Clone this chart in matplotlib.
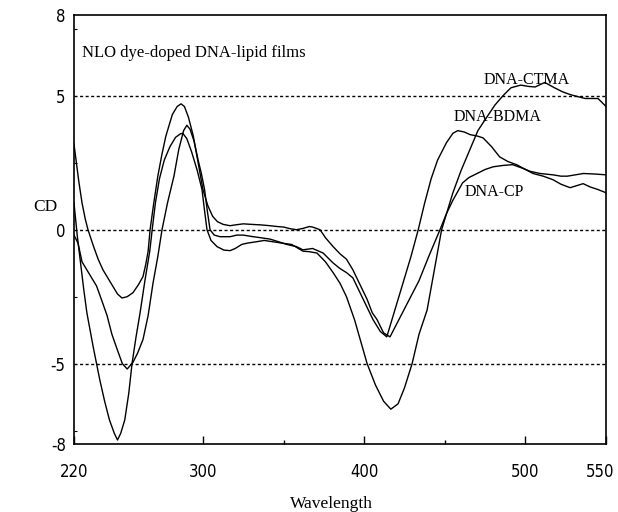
import matplotlib
matplotlib.use('Agg')

import matplotlib.pyplot as plt
import matplotlib.transforms as mtransforms
import numpy as np

# CD spectra (wavelength nm, CD)
ctma_wl = [220, 222, 224, 226, 228, 232, 236, 239, 242, 245, 247, 249, 251.5, 254, 256,
           258.5, 261, 264, 267, 268.5, 270.5, 273, 276, 279.5, 283, 286, 287.5, 290, 293,
           296.5, 299.4, 301, 302.5, 305, 308.7, 313, 316.8, 320, 324, 327.5, 333, 338,
           343.5, 349, 355, 362, 366, 370.7, 376, 380.7, 385, 389, 394, 398, 401.8, 407,
           412, 416.5, 421, 425, 429.7, 434, 439, 443.5, 448, 455, 460, 465.6, 470.5, 476,
           481, 486, 491, 497, 502, 506, 512, 518, 523, 528, 537, 545, 550]
ctma_cd = [1.0, -0.2, -1.2, -2.2, -3.1, -4.4, -5.6, -6.4, -7.1, -7.6, -7.85, -7.6, -7.1, -6.1, -5.0,
           -4.0, -3.1, -1.9, -0.8, 0.0, 1.0, 1.9, 2.6, 3.1, 3.45, 3.58, 3.6, 3.4, 2.9,
           2.2, 1.5, 0.7, 0.0, -0.4, -0.63, -0.76, -0.78, -0.7, -0.55, -0.5, -0.45, -0.4,
           -0.45, -0.5, -0.55, -0.8, -0.82, -0.87, -1.2, -1.6, -2.0, -2.5, -3.36, -4.2, -5.0, -5.8,
           -6.4, -6.7, -6.5, -5.9, -5.0, -3.9, -3.0, -1.5, 0.0, 1.38, 2.2, 3.0, 3.7, 4.2,
           4.65, 5.0, 5.3, 5.4, 5.35, 5.33, 5.5, 5.3, 5.15, 5.04, 4.9, 4.9, 4.6]

bdma_wl = [220, 222.5, 225, 229, 234, 237, 240.5, 243.5, 246.7, 250, 253, 256.6, 259.5, 262.8,
           266, 269, 272, 274.6, 278, 282, 285, 288, 290, 292, 294.5, 297, 299, 301, 302.7,
           304.4, 307, 310.6, 316.8, 321, 325, 330, 336, 341.6, 347, 352, 358, 362, 368,
           374.5, 380.7, 385, 389, 393, 397, 401.8, 405.5, 410, 414, 419, 424, 429, 433.5,
           437.5, 441.5, 445.5, 451, 455, 458, 462, 465.7, 470, 473.7, 479, 484, 489, 494.8,
           500, 504.7, 511, 517, 522, 527.7, 532, 535.8, 540, 545, 550]
bdma_cd = [-0.2, -0.5, -1.2, -1.6, -2.1, -2.6, -3.2, -3.9, -4.45, -5.0, -5.2, -4.95, -4.6, -4.1,
           -3.2, -2.0, -1.0, 0.0, 1.0, 2.0, 3.0, 3.7, 3.9, 3.75, 3.3, 2.6, 2.1, 1.5, 0.7,
           0.0, -0.2, -0.26, -0.26, -0.2, -0.2, -0.25, -0.3, -0.35, -0.45, -0.55, -0.63, -0.75, -0.7,
           -0.87, -1.24, -1.45, -1.6, -1.8, -2.3, -2.9, -3.36, -3.8, -4.0, -3.0, -2.0, -1.0, 0.0,
           1.0, 1.9, 2.6, 3.25, 3.6, 3.7, 3.65, 3.55, 3.5, 3.43, 3.1, 2.72, 2.55, 2.42,
           2.25, 2.1, 2.0, 1.87, 1.7, 1.57, 1.65, 1.72, 1.6, 1.5, 1.38]

cp_wl = [220, 221.5, 223, 225, 227, 228.7, 232, 235, 238, 241, 244, 247, 249.8, 253, 256.6,
         260, 262.8, 264.5, 266, 267.2, 269.5, 272, 274.5, 277, 281, 284, 286.4, 288.5, 291,
         294, 297, 300, 303, 306, 309, 312.5, 316.8, 320, 325, 330, 336, 341.6, 346, 350,
         354, 358, 362, 366, 368, 372.6, 376, 380.7, 385, 389, 393, 397, 401.8, 405, 408,
         412, 416, 422, 428, 434, 440, 447, 451, 455, 461, 465, 470, 475, 480, 486, 492,
         498, 503, 509, 517, 522, 526, 531, 536, 543, 550]
cp_cd = [3.2, 2.5, 1.8, 1.0, 0.4, 0.0, -0.6, -1.1, -1.5, -1.8, -2.1, -2.4, -2.55, -2.5, -2.35,
         -2.05, -1.75, -1.3, -0.8, 0.0, 1.0, 2.0, 2.8, 3.5, 4.3, 4.6, 4.7, 4.6, 4.2,
         3.5, 2.5, 1.5, 0.9, 0.5, 0.3, 0.2, 0.15, 0.18, 0.22, 0.2, 0.18, 0.15, 0.12, 0.1,
         0.04, 0.0, 0.05, 0.12, 0.1, 0.0, -0.3, -0.63, -0.9, -1.1, -1.5, -2.0, -2.6, -3.1, -3.36,
         -3.85, -4.0, -3.3, -2.6, -1.9, -1.0, 0.0, 0.6, 1.1, 1.75, 1.95, 2.1, 2.25, 2.35, 2.4, 2.43,
         2.3, 2.18, 2.1, 2.05, 2.0, 2.0, 2.05, 2.1, 2.08, 2.05]

series_names = ["DNA-CTMA", "DNA-BDMA", "DNA-CP"]
label_pos = [(500.5, 5.6), (482.5, 4.2), (480.5, 1.42)]   # where the curve names sit
ref_levels = [5, 0, -5]
y_ticks = [8, 5, 0, -5, -8]
x_ticks = [220, 300, 400, 500, 550]

serif = "Liberation Serif"
plt.rcParams['axes.unicode_minus'] = False

fig = plt.figure(figsize=(6.18, 5.12), dpi=100)
ax = fig.add_axes([0.1197, 0.1328, 0.861, 0.837])

for wl, cd in [(ctma_wl, ctma_cd), (bdma_wl, bdma_cd), (cp_wl, cp_cd)]:
    ax.plot(wl, cd, color="black", lw=1.0)

for lvl in ref_levels:
    ax.axhline(lvl, color="black", lw=1.0, ls=(0, (2.2, 1.8)))

for name, (x, y) in zip(series_names, label_pos):
    ax.text(x, y, name, fontsize=11.5, family=serif, ha="center", va="center")

ax.text(0.015, 0.912, "NLO dye-doped DNA-lipid films", transform=ax.transAxes,
        fontsize=12, family=serif, ha="left", va="center")

ax.set_xlim(220, 550)
ax.set_ylim(-8, 8)
ax.set_xticks(x_ticks)
ax.set_xticks([350, 450], minor=True)
ax.set_yticks(y_ticks)
ax.set_yticks([7.5, 2.5, -2.5, -7.5], minor=True)
ax.tick_params(axis="both", which="major", direction="in", length=6, width=1,
               labelsize=12)
ax.tick_params(axis="x", which="major", pad=14)
ax.tick_params(axis="y", which="major", pad=6, length=0)
ax.tick_params(axis="x", which="minor", direction="in", length=3, width=1)
ax.tick_params(axis="y", which="minor", direction="in", length=2, width=0.8)
for lab in ax.get_xticklabels() + ax.get_yticklabels():
    lab.set_family("DejaVu Sans")
    lab.set_stretch("condensed")

# the last x label sits close to the right edge, nudge it in a little
last = ax.get_xticklabels()[-1]
last.set_transform(last.get_transform() +
                   mtransforms.ScaledTranslation(-6 / 100, 0, fig.dpi_scale_trans))

for sp in ax.spines.values():
    sp.set_linewidth(1.2)

fig.text(0.073, 0.596, "CD", fontsize=12.5, family=serif, ha="center", va="center")
fig.text(0.537, 0.016, "Wavelength", fontsize=12.5, family=serif, ha="center", va="center")

fig.savefig("out.png", dpi=100)
